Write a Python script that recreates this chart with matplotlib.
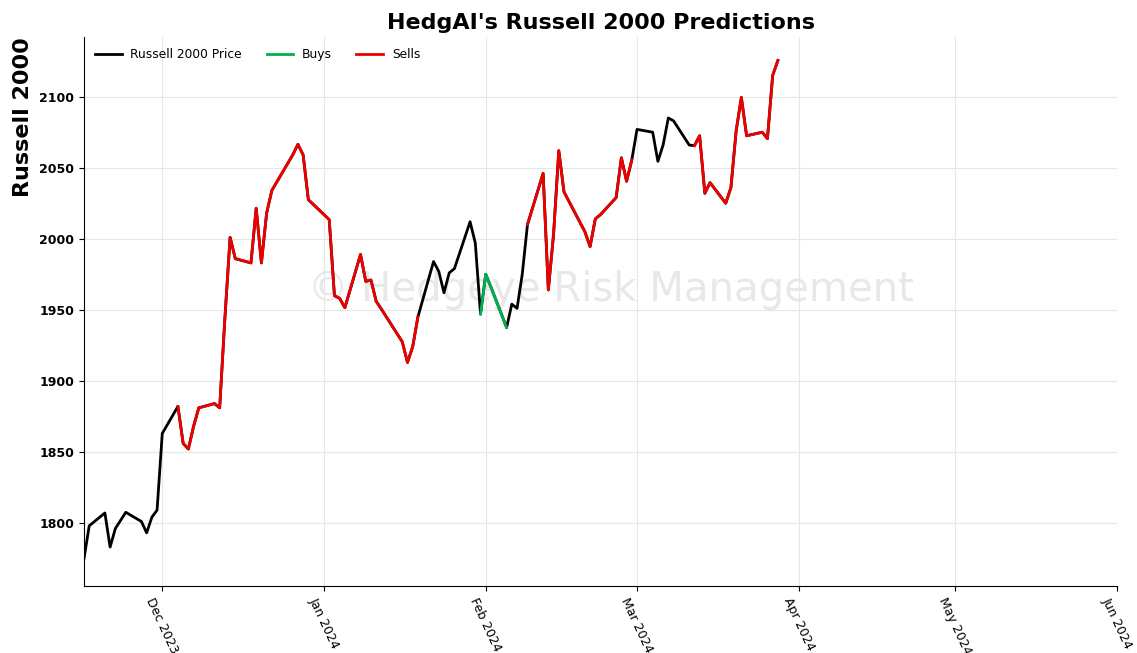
import numpy as np
import pandas as pd
import matplotlib
matplotlib.use("Agg")
import matplotlib.pyplot as plt
import matplotlib.dates as mdates

# daily closes
dates = [
    "2023-11-16", "2023-11-17", "2023-11-20", "2023-11-21", "2023-11-22", "2023-11-24",
    "2023-11-27", "2023-11-28", "2023-11-29", "2023-11-30", "2023-12-01",
    "2023-12-04", "2023-12-05", "2023-12-06", "2023-12-07", "2023-12-08",
    "2023-12-11", "2023-12-12", "2023-12-13", "2023-12-14", "2023-12-15",
    "2023-12-18", "2023-12-19", "2023-12-20", "2023-12-21", "2023-12-22",
    "2023-12-26", "2023-12-27", "2023-12-28", "2023-12-29",
    "2024-01-02", "2024-01-03", "2024-01-04", "2024-01-05",
    "2024-01-08", "2024-01-09", "2024-01-10", "2024-01-11", "2024-01-12",
    "2024-01-16", "2024-01-17", "2024-01-18", "2024-01-19",
    "2024-01-22", "2024-01-23", "2024-01-24", "2024-01-25", "2024-01-26",
    "2024-01-29", "2024-01-30", "2024-01-31", "2024-02-01", "2024-02-02",
    "2024-02-05", "2024-02-06", "2024-02-07", "2024-02-08", "2024-02-09",
    "2024-02-12", "2024-02-13", "2024-02-14", "2024-02-15", "2024-02-16",
    "2024-02-20", "2024-02-21", "2024-02-22", "2024-02-23",
    "2024-02-26", "2024-02-27", "2024-02-28", "2024-02-29", "2024-03-01",
    "2024-03-04", "2024-03-05", "2024-03-06", "2024-03-07", "2024-03-08",
    "2024-03-11", "2024-03-12", "2024-03-13", "2024-03-14", "2024-03-15",
    "2024-03-18", "2024-03-19", "2024-03-20", "2024-03-21", "2024-03-22",
    "2024-03-25", "2024-03-26", "2024-03-27", "2024-03-28",
]
prices = [
    1775, 1798, 1807, 1783, 1796, 1807.5,
    1801, 1793, 1804, 1809, 1863,
    1882, 1856, 1852, 1868, 1881,
    1884, 1881, 1944, 2001, 1986,
    1983, 2021.5, 1983, 2018, 2034,
    2059, 2066.5, 2059, 2027.5,
    2013.5, 1960, 1958, 1951.5,
    1989, 1970, 1971, 1956, 1950.5,
    1927.5, 1913, 1924, 1945,
    1984, 1977, 1962, 1976, 1979,
    2012, 1997, 1947, 1975, 1966,
    1937.5, 1954, 1951, 1975, 2010,
    2046, 1964, 2003, 2062, 2033,
    2005, 1994.5, 2014, 2017,
    2029, 2057, 2040.5, 2055.5, 2077,
    2075, 2054.5, 2066, 2085, 2083,
    2066, 2065.5, 2072.5, 2032, 2039.5,
    2025, 2036, 2076, 2099.5, 2072.5,
    2075, 2070.5, 2115, 2125.5,
]

buy_ranges = [("2024-01-31", "2024-02-05")]
sell_ranges = [("2023-12-04", "2024-01-19"),
               ("2024-02-09", "2024-02-29"),
               ("2024-03-12", "2024-03-28")]

df = pd.DataFrame({"price": prices}, index=pd.to_datetime(dates))

fig = plt.figure(figsize=(11.37, 6.53), dpi=100)
ax = fig.add_axes([0.0739, 0.1026, 0.9085, 0.8407])

ax.plot(df.index, df["price"], color="black", lw=2, label="Russell 2000 Price", zorder=2)

for i, (s, e) in enumerate(buy_ranges):
    seg = df.loc[s:e]
    ax.plot(seg.index, seg["price"], color="#00b050", lw=2,
            label="Buys" if i == 0 else None, zorder=3)
for i, (s, e) in enumerate(sell_ranges):
    seg = df.loc[s:e]
    ax.plot(seg.index, seg["price"], color="#ee0000", lw=2,
            label="Sells" if i == 0 else None, zorder=3)

ax.set_xlim(pd.Timestamp("2023-11-16"), pd.Timestamp("2024-06-01"))
ax.set_ylim(1755.6, 2142)
ax.xaxis.set_major_locator(mdates.MonthLocator())
ax.xaxis.set_major_formatter(mdates.DateFormatter("%b %Y"))
for lab in ax.get_xticklabels():
    lab.set_rotation(-65)
    lab.set_ha("center")
    lab.set_fontsize(9)
ax.set_yticks([1800, 1850, 1900, 1950, 2000, 2050, 2100])
for lab in ax.get_yticklabels():
    lab.set_fontweight("bold")
    lab.set_fontsize(9)

ax.grid(True, color="#e6e6e6", lw=0.8, zorder=0)
ax.spines["top"].set_visible(False)
ax.spines["right"].set_visible(False)

ax.set_title("HedgAI's Russell 2000 Predictions", fontsize=16, fontweight="bold", pad=6)
ax.set_ylabel("Russell 2000", fontsize=16, fontweight="bold")
ax.yaxis.set_label_coords(-0.049, 0.854)

ax.text(0.51, 0.54, "\u00a9 Hedgeye Risk Management", transform=ax.transAxes,
        fontsize=29, color="#d9d9d9", alpha=0.6, ha="center", va="center", zorder=1)

ax.legend(loc="upper left", ncol=3, frameon=False, fontsize=8.8,
          columnspacing=2.0, handlelength=2.2, handletextpad=0.7)

fig.savefig("out.png", dpi=100)
